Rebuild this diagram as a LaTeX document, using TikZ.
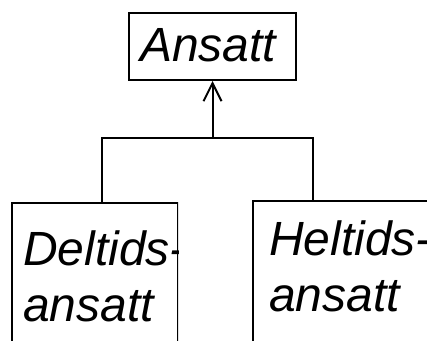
\documentclass[tikz,border=0pt]{standalone}
\usepackage{fontspec}
\setmainfont{Liberation Sans}
\usetikzlibrary{arrows.meta}

\begin{document}
\begin{tikzpicture}[
  x=0.5pt, y=-0.5pt,
  line width=1pt,
  font=\itshape\fontsize{24}{28}\selectfont,
  >={Straight Barb[length=9pt,width=9pt]},
  cls/.style={draw, line width=1pt, inner xsep=5.5pt, inner ysep=0pt, align=left},
  sub/.style={cls, anchor=north west, text depth=80pt}
]
\clip (0,0) rectangle (427,341);
\node[cls, text width=72.5pt, minimum height=33.5pt, text depth=2pt] (ansatt) at (212.5,46.5) {Ansatt};
% text is cut at the right border of the box
\begin{scope}
  \clip (0,190) rectangle (178,341);
  \node[sub, inner ysep=14pt, text width=72pt] (deltid) at (11,202) {\mbox{Deltids-}\\\mbox{ansatt}};
\end{scope}
\node[sub, inner xsep=8pt, inner ysep=10pt, text width=79pt] (heltid) at (252,200) {\mbox{Heltids-}\\\mbox{ansatt}};
\coordinate (fork) at (212.5,138);
\draw[->] (fork) -- (ansatt);
\draw ([xshift=45.5pt]deltid.north west) |- (fork) -| ([xshift=30.5pt]heltid.north west);
\end{tikzpicture}
\end{document}
